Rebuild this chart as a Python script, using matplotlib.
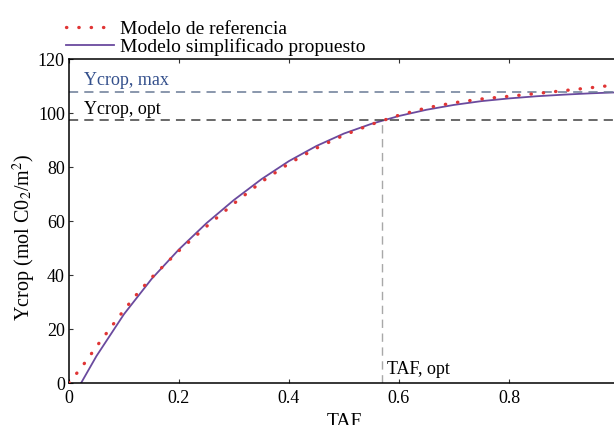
import numpy as np
import matplotlib.pyplot as plt

plt.rcParams['font.family'] = ['Liberation Serif', 'DejaVu Serif']
plt.rcParams['mathtext.fontset'] = 'stix'

# datos
taf_ref = [0, 0.016, 0.03, 0.05, 0.075, 0.1, 0.125, 0.15, 0.2, 0.25, 0.3, 0.35, 0.4, 0.45,
           0.5, 0.55, 0.6, 0.65, 0.7, 0.75, 0.8, 0.85, 0.9, 0.95, 0.99]
y_ref = [0, 4.1, 7.8, 13.5, 20.3, 27, 33.3, 39, 49, 58, 66.5, 74.5, 81.3, 87,
         91.8, 95.8, 99.2, 101.9, 103.8, 105.2, 106.2, 107.2, 108.3, 109.4, 110.3]

taf_sim = [0.022, 0.05, 0.1, 0.15, 0.2, 0.25, 0.3, 0.35, 0.4, 0.45, 0.5, 0.55, 0.6,
           0.65, 0.7, 0.75, 0.8, 0.85, 0.9, 0.95, 0.99]
y_sim = [0, 10, 25.5, 38.5, 49.5, 59.2, 67.8, 75.5, 82.2, 87.8, 92.4, 96.0, 98.9,
         101.2, 103.0, 104.4, 105.4, 106.2, 106.8, 107.3, 107.6]

ycrop_max = 107.8
ycrop_opt = 97.4
taf_opt = 0.569

fig = plt.figure(figsize=(6.14, 4.25), dpi=100)
ax = fig.add_axes([69 / 614, 42 / 425, 550 / 614, 324 / 425])

ax.plot(taf_ref, y_ref, color='#e03535', lw=2.4, linestyle=(0, (0.1, 3.6)),
        dash_capstyle='round', label='Modelo de referencia', zorder=3)
ax.plot(taf_sim, y_sim, color='#6a4a9e', lw=1.3, label='Modelo simplificado propuesto', zorder=2)

ax.axhline(ycrop_max, color='#6a7a96', lw=1.1, ls=(0, (6, 4)))
ax.axhline(ycrop_opt, color='#404040', lw=1.1, ls=(0, (6, 4)))
ax.plot([taf_opt, taf_opt], [0, ycrop_opt], color='#a8a8a8', lw=1.0, ls=(0, (6, 4)))

ax.text(0.027, 110.3, 'Ycrop, max', color='#34508c', fontsize=13)
ax.text(0.027, 99.8, 'Ycrop, opt', color='black', fontsize=13)
ax.text(taf_opt + 0.01, 3.5, 'TAF, opt', color='black', fontsize=13)

ax.set_xlim(0, 1.0)
ax.set_ylim(0, 120)
ax.set_xticks([0, 0.2, 0.4, 0.6, 0.8])
ax.set_xticklabels(['0', '0.2', '0.4', '0.6', '0.8'])
ax.set_yticks([0, 20, 40, 60, 80, 100, 120])
ax.tick_params(direction='in', top=True, labelsize=13, length=3, colors='#333333',
               labelcolor='black')
ax.tick_params(axis='x', pad=5)
ax.tick_params(axis='y', pad=3)
for s in ax.spines.values():
    s.set_linewidth(1.1)

# en la figura original la etiqueta TAF queda cortada abajo
ax.set_xlabel('TAF', fontsize=14, labelpad=4)
ax.set_ylabel('Ycrop (mol C0$_2$/m$^2$)', fontsize=14.5, labelpad=4)
ax.yaxis.set_label_coords(-0.057, 0.45)

ax.legend(loc='lower left', bbox_to_anchor=(-0.02, 0.985), frameon=False, fontsize=14,
          handlelength=2.5, handletextpad=0.3, labelspacing=0.0, borderaxespad=0)

fig.savefig('out.png', dpi=100)
